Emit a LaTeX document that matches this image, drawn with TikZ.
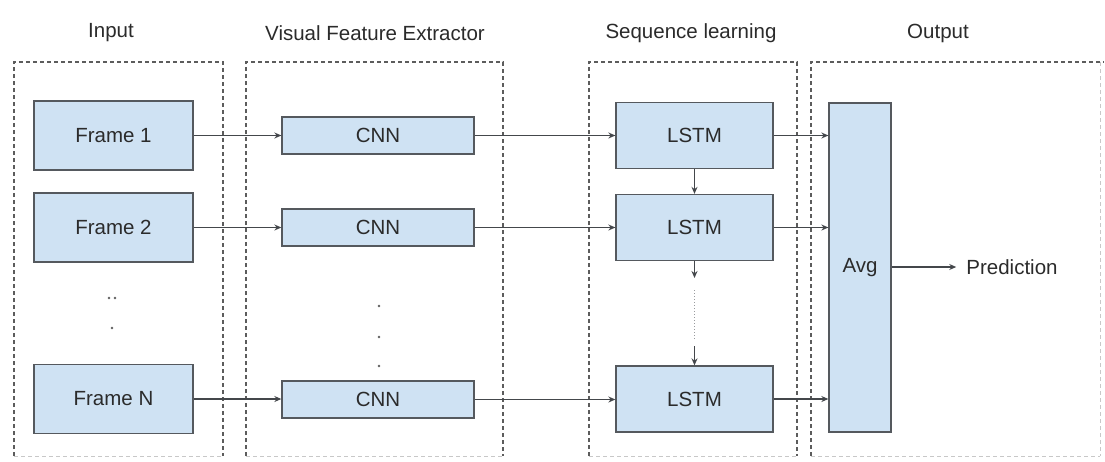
\documentclass[tikz,border=0pt]{standalone}
\usepackage{fontspec}
\setmainfont{Liberation Sans}
\usetikzlibrary{arrows.meta}
\definecolor{boxfill}{HTML}{CFE2F3}
\definecolor{boxline}{HTML}{55595E}
\definecolor{txt}{HTML}{2B2B2B}
\definecolor{frameline}{HTML}{5C5C5C}
\definecolor{framefaint}{HTML}{C8C8C8}
\begin{document}
\begin{tikzpicture}[x=1pt,y=-1pt,
  blk/.style={draw=boxline,fill=boxfill,line width=1.3pt,inner sep=0pt,
    text=txt,font=\fontsize{20.5}{24}\selectfont},
  framebox/.style={rectangle,minimum width=159pt,minimum height=69pt},
  cnnbox/.style={rectangle,minimum width=192pt,minimum height=37pt},
  lstmbox/.style={rectangle,minimum width=157pt,minimum height=66pt},
  title/.style={text=txt,inner sep=0pt,font=\fontsize{20.5}{24}\selectfont},
  group/.style={draw=frameline,line width=1.1pt,dash pattern=on 4pt off 3pt},
  groupfaint/.style={draw=framefaint,line width=1pt,dash pattern=on 4pt off 3pt},
  conn/.style={draw=boxline!80!black,line width=1.4pt,-{Stealth[length=7pt,width=6pt]}},
  dot/.style={circle,fill=txt!75,inner sep=0pt,minimum size=2.8pt}]
\useasboundingbox (0,0) rectangle (1105,461);
\fill[white] (0,0) rectangle (1105,461);

% dashed group frames (bottom edges fade out)
\draw[group] (14,456) -- (14,62) -- (223,62) -- (223,456);
\draw[group] (246,456) -- (246,62) -- (503,62) -- (503,456);
\draw[group] (589,456) -- (589,62) -- (797,62) -- (797,456);
\draw[group] (811,456) -- (811,62) -- (1104,62);
\draw[groupfaint] (1100,62) -- (1100,456);
\draw[groupfaint] (14,456) -- (223,456) (246,456) -- (503,456)
  (589,456) -- (797,456) (811,456) -- (1100,456);

% column titles
\node[title] (tin)  at (111,33) {Input};
\node[title] (tvfe) at (375,33) {Visual Feature Extractor};
\node[title] (tseq) at (691,33) {Sequence learning};
\node[title] (tout) at (938,33) {Output};

% input frames
\node[blk,framebox] (f1) at (113.5,135.5) {Frame 1};
\node[blk,framebox] (f2) at (113.5,227.5) {Frame 2};
\node[blk,framebox] (fn) at (113.5,399) {Frame N};

% CNN feature extractors
\node[blk,cnnbox] (c1) at (378,135.5) {CNN};
\node[blk,cnnbox] (c2) at (378,227.5) {CNN};
\node[blk,cnnbox] (cn) at (378,399.5) {CNN};

% LSTM chain
\node[blk,lstmbox] (l1) at (694.5,135.5) {LSTM};
\node[blk,lstmbox] (l2) at (694.5,227.5) {LSTM};
\node[blk,lstmbox] (ln) at (694.5,399) {LSTM};

% averaging and prediction
\node[blk,rectangle,minimum width=62pt,minimum height=329pt] (avg) at (860,267.5) {Avg};
\node[title] (pred) at (1012,267) {Prediction};

% ellipsis dots
\node[dot] (d1a) at (109,298) {};
\node[dot] (d1b) at (115,298) {};
\node[dot] (d1c) at (112,328) {};
\node[dot] (d2a) at (379,306) {};
\node[dot] (d2b) at (379,337) {};
\node[dot] (d2c) at (379,366) {};

% frame -> CNN -> LSTM -> Avg
\foreach \a/\b in {f1/c1,f2/c2,c1/l1,c2/l2,l1/avg,l2/avg}
  \draw[conn] (\a.east) -- (\a.east -| \b.west);
\draw[conn] (fn.east) -- (fn.east -| cn.west);
\draw[conn] (cn.east) -- (cn.east -| ln.west);
\draw[conn] (ln.east) -- (ln.east -| avg.west);

% recurrent links
\draw[conn] (l1.south) -- (l2.north);
\coordinate (ra) at (694.5,278);
\coordinate (rb) at (694.5,346);
\draw[conn] (l2.south) -- (ra);
\draw[draw=boxline!60,line width=1pt,dotted] (694.5,290) -- (694.5,340);
\draw[conn] (rb) -- (ln.north);

% output arrow
\draw[conn,shorten >=10pt] (avg.east |- pred.west) -- (pred.west);
\end{tikzpicture}
\end{document}
